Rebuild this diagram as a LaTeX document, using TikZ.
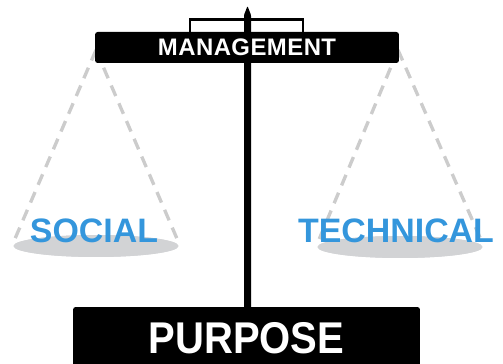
\documentclass[tikz,border=0pt]{standalone}
\usepackage{fontspec}
\setmainfont{Liberation Sans}
\usetikzlibrary{shapes.geometric}
\definecolor{panblue}{RGB}{52,150,220}
\definecolor{pangray}{RGB}{210,211,213}
\definecolor{chaingray}{RGB}{204,204,204}

\begin{document}
\begin{tikzpicture}[x=0.02cm,y=-0.02cm]
            \tikzset{chain/.style={chaingray,line width=1.9pt,dash pattern=on 6.5pt off 4.5pt}};
            \tikzset{pan/.style={ellipse,fill=pangray,minimum width=3.3cm,minimum height=0.44cm,inner sep=0pt}};
            \tikzset{side/.style={text=panblue,font=\fontsize{19.3}{19.3}\selectfont\bfseries}};
            \tikzset{blackbox/.style={fill=black,text=white,rounded corners=1.5pt,inner sep=0pt}};
            \useasboundingbox (0,0) rectangle (503,364);

            % bracket and pole
            \draw[line width=1.3pt] (190,33) -- (190,19.5) -- (303,19.5) -- (303,33);
            \fill[rounded corners=0.5pt] (244,310) -- (244,15) -- (247.5,6) -- (251,15) -- (251,310) -- cycle;

            % hooks and pans
            \coordinate (lhook) at (96,50);
            \coordinate (rhook) at (398,50);
            \node[pan] (lpan) at (96,246) {};
            \node[pan] (rpan) at (400,247) {};
            \draw[chain] (lhook) -- ([yshift=0.06cm]lpan.west);
            \draw[chain] (lhook) -- ([yshift=0.06cm]lpan.east);
            \draw[chain] (rhook) -- ([yshift=0.06cm]rpan.west);
            \draw[chain] (rhook) -- ([yshift=0.06cm]rpan.east);
            \node[pan] at (lpan) {};
            \node[pan] at (rpan) {};

            \node[side] (social) at (94,231) {SOCIAL};
            \node[side] (technical) at (396,231) {TECHNICAL};

            % beam and base
            \node[blackbox,minimum width=6.08cm,minimum height=0.62cm,
                  font=\fontsize{13.6}{13.6}\selectfont\bfseries] (mgmt) at (247,47.5)
                  {\addfontfeatures{LetterSpace=2}MANAGEMENT};
            \node[blackbox,minimum width=6.94cm,minimum height=1.24cm,
                  font=\fontsize{25.3}{25.3}\selectfont\bfseries] (purpose) at (246.5,338)
                  {\scalebox{0.9}[1]{PURPOSE}};
        \end{tikzpicture}
\end{document}
